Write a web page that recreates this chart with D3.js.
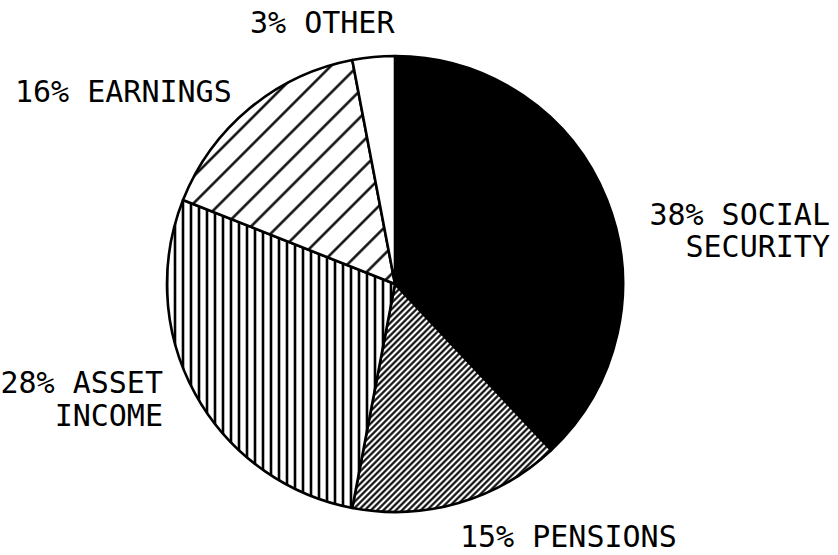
<!DOCTYPE html>
<html>
<head>
<meta charset="utf-8">
<script src="https://cdn.jsdelivr.net/npm/d3@7"></script>
<style>
  body { margin: 0; background: #fff; }
  text { font-family: "DejaVu Sans Mono", monospace; font-size: 30px; fill: #000; }
</style>
</head>
<body>
<script>
// data, clockwise from 12 o'clock
const categories = ["SOCIAL SECURITY", "PENSIONS", "ASSET INCOME", "EARNINGS", "OTHER"];
const shares = [38, 15, 28, 16, 3];
const labelLines = [
    ["38% SOCIAL", "SECURITY"],
    ["15% PENSIONS"],
    ["28% ASSET", "INCOME"],
    ["16% EARNINGS"],
    ["3% OTHER"]
];

const width = 838;
const height = 555;
const cx = 395, cy = 284, radius = 228;

// where each label block sits (x, baseline of first line, line gap, anchor)
const labelPos = [
    { x: 830, y: 225, gap: 32, anchor: "end" },
    { x: 460, y: 547, gap: 0, anchor: "start" },
    { x: 163, y: 393, gap: 33, anchor: "end" },
    { x: 15, y: 102, gap: 0, anchor: "start" },
    { x: 250, y: 33, gap: 0, anchor: "start" }
];

const svg = d3.select("body").append("svg")
    .attr("width", width)
    .attr("height", height);

//hatch patterns
const defs = svg.append("defs");

function hatch(id, size, angle, strokeW) {
    const p = defs.append("pattern")
        .attr("id", id)
        .attr("patternUnits", "userSpaceOnUse")
        .attr("width", size)
        .attr("height", size)
        .attr("patternTransform", "rotate(" + angle + ")");
    p.append("rect").attr("width", size).attr("height", size).attr("fill", "#fff");
    p.append("line")
        .attr("x1", size / 2).attr("y1", -1)
        .attr("x2", size / 2).attr("y2", size + 1)
        .attr("stroke", "#000")
        .attr("stroke-width", strokeW);
}
hatch("fine", 4.4, 45, 2.1);
hatch("vert", 8, 0, 2.6);
hatch("wide", 19, 45, 2.4);

const fills = ["#000", "url(#fine)", "url(#vert)", "url(#wide)", "#fff"];

const pie = d3.pie().sort(null).value(d => d);
const arc = d3.arc().innerRadius(0).outerRadius(radius);

const g = svg.append("g").attr("transform", `translate(${cx},${cy})`);

g.selectAll("path")
    .data(pie(shares))
    .enter()
    .append("path")
    .attr("d", arc)
    .attr("fill", (d, i) => fills[i])
    .attr("stroke", "#000")
    .attr("stroke-width", 2.6)
    .attr("stroke-linejoin", "round");

// labels, one text per line
const lines = [];
labelLines.forEach((ls, i) => ls.forEach((t, j) => lines.push({ t: t, i: i, j: j })));

svg.selectAll("text.label")
    .data(lines)
    .enter()
    .append("text")
    .attr("class", "label")
    .attr("text-anchor", d => labelPos[d.i].anchor)
    .attr("x", d => labelPos[d.i].x)
    .attr("y", d => labelPos[d.i].y + d.j * labelPos[d.i].gap)
    .text(d => d.t);
</script>
</body>
</html>
